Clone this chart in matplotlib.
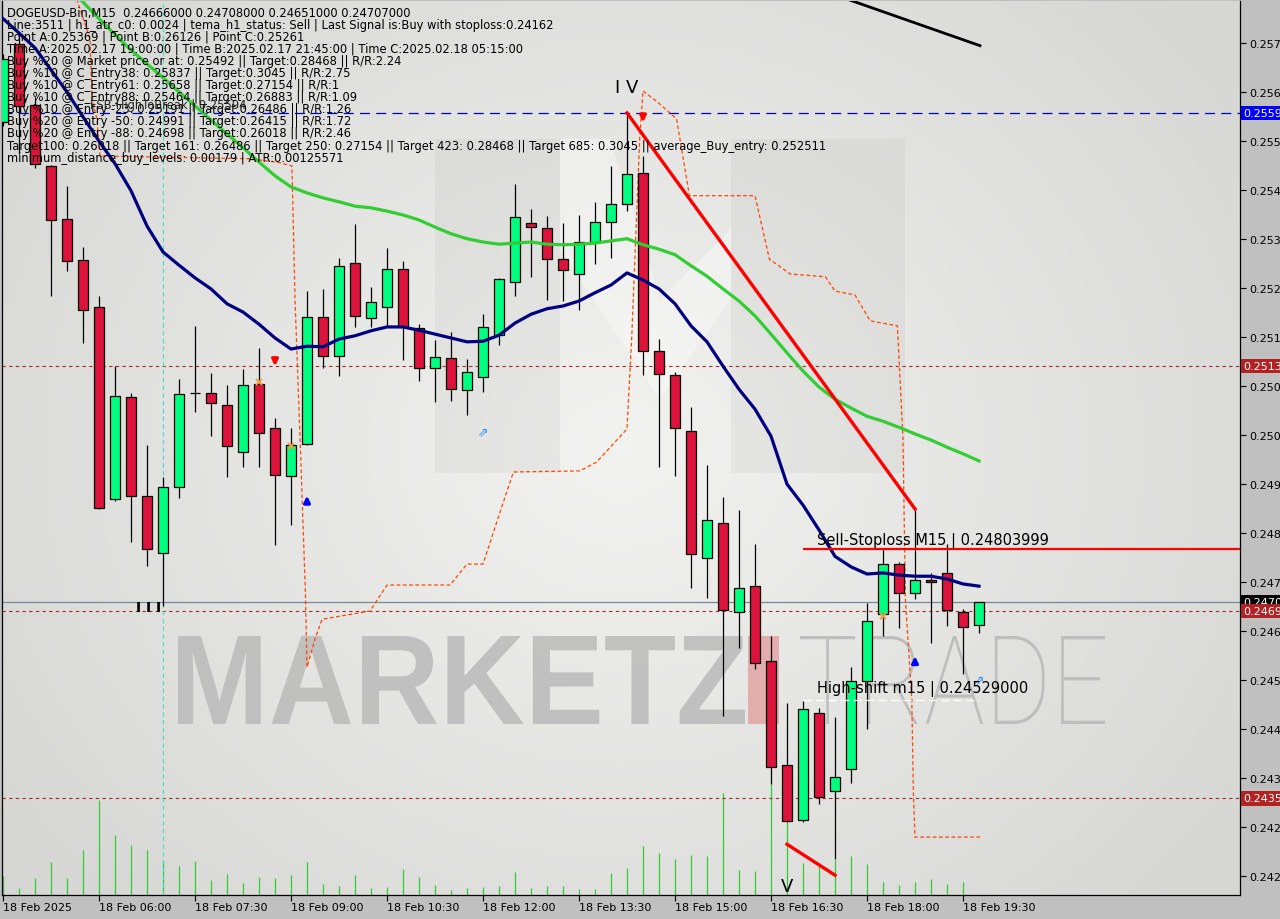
import numpy as np
import matplotlib.pyplot as plt
from matplotlib.patches import Rectangle, PathPatch, Polygon
from matplotlib.textpath import TextPath
from matplotlib.font_manager import FontProperties
from matplotlib.transforms import Affine2D, blended_transform_factory

# ---- DOGEUSD-Bin M15, 18 Feb 2025 04:30 .. 19:45 ----
opens = [0.25578, 0.25719, 0.25609, 0.25498, 0.25402, 0.25327, 0.25242, 0.24894, 0.25079, 0.24899,
         0.24796, 0.24916, 0.25086, 0.25086, 0.25064, 0.24979, 0.25103, 0.25023, 0.24936, 0.24994,
         0.25224, 0.25153, 0.25322, 0.25222, 0.25242, 0.25311, 0.25204, 0.25132, 0.25150, 0.25092,
         0.25115, 0.25191, 0.25288, 0.25395, 0.25385, 0.25329, 0.25302, 0.25360, 0.25396, 0.25429,
         0.25485, 0.25162, 0.25119, 0.25017, 0.24787, 0.24850, 0.24689, 0.24736, 0.24600, 0.24411,
         0.24312, 0.24506, 0.24364, 0.24404, 0.24564, 0.24685, 0.24776, 0.24723, 0.24747, 0.24760,
         0.24689, 0.24666]
highs = [0.25701, 0.25737, 0.25623, 0.25500, 0.25462, 0.25351, 0.25262, 0.25135, 0.25086, 0.24992,
         0.24934, 0.25112, 0.25208, 0.25122, 0.25101, 0.25130, 0.25168, 0.25041, 0.25023, 0.25271,
         0.25275, 0.25331, 0.25393, 0.25278, 0.25349, 0.25326, 0.25211, 0.25182, 0.25197, 0.25148,
         0.25229, 0.25295, 0.25465, 0.25420, 0.25407, 0.25395, 0.25409, 0.25433, 0.25498, 0.25594,
         0.25516, 0.25184, 0.25124, 0.25061, 0.24956, 0.24898, 0.24874, 0.24812, 0.24645, 0.24524,
         0.24527, 0.24515, 0.24498, 0.24589, 0.24705, 0.24803, 0.24780, 0.24874, 0.24760, 0.24812,
         0.24694, 0.24708]
lows = [0.25570, 0.25520, 0.25494, 0.25262, 0.25307, 0.25177, 0.24876, 0.24890, 0.24816, 0.24772,
        0.24700, 0.24896, 0.25052, 0.25008, 0.24934, 0.24952, 0.24952, 0.24810, 0.24847, 0.24992,
        0.25132, 0.25117, 0.25206, 0.25206, 0.25208, 0.25146, 0.25108, 0.25070, 0.25072, 0.25046,
        0.25088, 0.25173, 0.25262, 0.25297, 0.25255, 0.25253, 0.25237, 0.25320, 0.25331, 0.25416,
        0.25119, 0.24952, 0.24936, 0.24732, 0.24714, 0.24500, 0.24624, 0.24585, 0.24377, 0.24308,
        0.24308, 0.24341, 0.24241, 0.24379, 0.24477, 0.24645, 0.24660, 0.24712, 0.24633, 0.24663,
        0.24576, 0.24651]
closes = [0.25692, 0.25607, 0.25502, 0.25400, 0.25326, 0.25237, 0.24878, 0.25081, 0.24899, 0.24803,
          0.24916, 0.25084, 0.25086, 0.25068, 0.24990, 0.25101, 0.25014, 0.24937, 0.24992, 0.25224,
          0.25153, 0.25317, 0.25226, 0.25251, 0.25311, 0.25206, 0.25132, 0.25151, 0.25093, 0.25124,
          0.25206, 0.25293, 0.25405, 0.25387, 0.25329, 0.25309, 0.25360, 0.25396, 0.25429, 0.25483,
          0.25162, 0.25121, 0.25023, 0.24794, 0.24856, 0.24692, 0.24732, 0.24596, 0.24408, 0.24310,
          0.24513, 0.24353, 0.24390, 0.24564, 0.24673, 0.24776, 0.24723, 0.24747, 0.24743, 0.24692,
          0.24662, 0.24707]
volumes = [19, 7, 17, 33, 17, 45, 95, 60, 50, 45, 35, 29, 34, 15, 21, 12, 18, 17, 20, 33,
           11, 9, 20, 7, 8, 26, 18, 10, 5, 7, 8, 9, 23, 7, 9, 9, 6, 6, 22, 27,
           49, 42, 36, 40, 39, 102, 25, 24, 111, 81, 32, 29, 35, 39, 31, 13, 10, 13, 16, 11,
           13, 0]

# navy (fast) and green (slow) moving averages
ma_fast = [0.25765, 0.25739, 0.25712, 0.25672, 0.25632, 0.25587, 0.25543, 0.25502, 0.25453, 0.25389,
           0.25342, 0.25318, 0.25295, 0.25275, 0.25248, 0.25233, 0.25211, 0.25186, 0.25166, 0.25171,
           0.25170, 0.25184, 0.25190, 0.25199, 0.25206, 0.25206, 0.25200, 0.25193, 0.25186, 0.25179,
           0.25180, 0.25191, 0.25213, 0.25229, 0.25239, 0.25244, 0.25253, 0.25268, 0.25282, 0.25304,
           0.25291, 0.25275, 0.25248, 0.25208, 0.25179, 0.25135, 0.25093, 0.25057, 0.25008, 0.24921,
           0.24883, 0.24838, 0.24790, 0.24771, 0.24758, 0.24760, 0.24756, 0.24754, 0.24754, 0.24749,
           0.24740, 0.24736]
ma_slow = [0.25930, 0.25904, 0.25879, 0.25852, 0.25824, 0.25795, 0.25765, 0.25736, 0.25708, 0.25683,
           0.25658, 0.25632, 0.25607, 0.25581, 0.25556, 0.25531, 0.25505, 0.25480, 0.25460, 0.25449,
           0.25440, 0.25433, 0.25425, 0.25422, 0.25416, 0.25409, 0.25400, 0.25387, 0.25375, 0.25366,
           0.25360, 0.25356, 0.25358, 0.25360, 0.25356, 0.25355, 0.25356, 0.25358, 0.25362, 0.25366,
           0.25355, 0.25347, 0.25337, 0.25317, 0.25298, 0.25275, 0.25253, 0.25226, 0.25193, 0.25159,
           0.25126, 0.25097, 0.25075, 0.25059, 0.25044, 0.25035, 0.25024, 0.25012, 0.25001, 0.24988,
           0.24976, 0.24963]

# orange dashed trailing band (bar index, price)
trail_idx = [4.5, 5.44, 5.56, 5.87, 6.06, 15.4, 17.1, 18.06, 18.25, 18.56,
             18.9, 19.0, 19.5, 19.94, 22.94, 24.0, 27.94, 29.0, 30.0, 31.06,
             31.9, 36.06, 37.1, 39.0, 39.3, 39.8, 40.0, 40.9, 42.1, 42.9,
             47.0, 47.9, 49.2, 51.4, 52.0, 53.25, 54.2, 55.9, 56.25, 56.4,
             56.8, 56.9, 57.0, 61.06]
trail_px = [0.25810, 0.25728, 0.25619, 0.25583, 0.25516, 0.25511, 0.25505, 0.25498, 0.25257, 0.25008,
            0.24725, 0.24589, 0.24640, 0.24676, 0.24691, 0.24738, 0.24738, 0.24776, 0.24776, 0.24870,
            0.24943, 0.24945, 0.24961, 0.25021, 0.25190, 0.25552, 0.25634, 0.25614, 0.25583, 0.25444,
            0.25444, 0.25329, 0.25302, 0.25297, 0.25271, 0.25264, 0.25217, 0.25208, 0.25003, 0.24712,
            0.24531, 0.24362, 0.24281, 0.24281]

# trend lines (bar index pairs, price pairs)
trend_red_idx, trend_red_px = [39, 57], [0.25594, 0.24876]
trend_low_idx, trend_low_px = [49, 52], [0.24268, 0.24212]
trend_blk_idx, trend_blk_px = [52.8, 61.06], [0.25800, 0.25716]

fsb_level = 0.25594
last_price = 0.24707
entry_levels = [0.25135, 0.24691, 0.24351]
sell_stop = 0.24803999
high_shift = 0.24529
signal_bar = 10

tag_prices = [0.25594, 0.25135, 0.24707, 0.24691, 0.24351]
tag_colors = ['#0000ff', '#b22222', '#000000', '#b22222', '#b22222']

price_ticks = [0.24210, 0.24299, 0.24388, 0.24477, 0.24566, 0.24654, 0.24743, 0.24832, 0.24921,
               0.25010, 0.25099, 0.25188, 0.25277, 0.25366, 0.25454, 0.25543, 0.25632, 0.25721]
time_idx = [0, 6, 12, 18, 24, 30, 36, 42, 48, 54, 60]
time_labels = ['18 Feb 2025', '18 Feb 06:00', '18 Feb 07:30', '18 Feb 09:00', '18 Feb 10:30',
               '18 Feb 12:00', '18 Feb 13:30', '18 Feb 15:00', '18 Feb 16:30', '18 Feb 18:00',
               '18 Feb 19:30']

header = [
    "DOGEUSD-Bin,M15  0.24666000 0.24708000 0.24651000 0.24707000",
    "Line:3511 | h1_atr_c0: 0.0024 | tema_h1_status: Sell | Last Signal is:Buy with stoploss:0.24162",
    "Point A:0.25369 | Point B:0.26126 | Point C:0.25261",
    "Time A:2025.02.17 19:00:00 | Time B:2025.02.17 21:45:00 | Time C:2025.02.18 05:15:00",
    "Buy %20 @ Market price or at: 0.25492 || Target:0.28468 || R/R:2.24",
    "Buy %10 @ C_Entry38: 0.25837 || Target:0.3045 || R/R:2.75",
    "Buy %10 @ C_Entry61: 0.25658 || Target:0.27154 || R/R:1",
    "Buy %10 @ C_Entry88: 0.25464 || Target:0.26883 || R/R:1.09",
    "Buy %10 @ Entry -23: 0.25191 || Target:0.26486 || R/R:1.26",
    "Buy %20 @ Entry -50: 0.24991 || Target:0.26415 || R/R:1.72",
    "Buy %20 @ Entry -88: 0.24698 || Target:0.26018 || R/R:2.46",
    "Target100: 0.26018 || Target 161: 0.26486 || Target 250: 0.27154 || Target 423: 0.28468 || Target 685: 0.3045 || average_Buy_entry: 0.252511",
    "minimum_distance_buy_levels: 0.00179 | ATR:0.00125571",
]

# signal markers (bar index, price)
sell_arrows = [(17, 0.25130), (40, 0.25572)]
buy_arrows = [(19, 0.24905), (57, 0.24614)]
hollow_arrows = [(30, 0.25017), (61, 0.24567)]
cross_marks = [(16, 0.25106), (18, 0.24990), (55, 0.24682)]
wave_labels = [("I V", 39, 0.25641), ("V", 49, 0.24192)]

# ---- layout ----
W, H = 1280, 920
PL, PR, PT, PB = 2, 1240, 2, 896

fig = plt.figure(figsize=(W / 100, H / 100), dpi=100, facecolor='#c0c0c0')
ax = fig.add_axes([PL / W, 1 - PB / H, (PR - PL) / W, (PB - PT) / H])


def axfrac(x, y):
    return (x - PL) / (PR - PL), (PB - y) / (PB - PT)


# light radial background
gy, gx = np.mgrid[0:1:200j, 0:1:300j]
r = np.clip(np.sqrt(((gx - 0.5) / 0.62) ** 2 + ((gy - 0.5) / 0.75) ** 2), 0, 1)
v = 0.95 - 0.11 * r
bg = np.dstack([v, v, v * 0.99])
ax.imshow(bg, extent=[0, 1, 0, 1], transform=ax.transAxes, aspect='auto', zorder=-10)


def box_text(s, x0, y0, x1, y1, color, weight='bold', family='Liberation Sans', alpha=1.0):
    tp = TextPath((0, 0), s, size=1, prop=FontProperties(family=family, weight=weight))
    e = tp.get_extents()
    a0 = axfrac(x0, y1)
    a1 = axfrac(x1, y0)
    tr = (Affine2D().translate(-e.x0, -e.y0)
          .scale((a1[0] - a0[0]) / e.width, (a1[1] - a0[1]) / e.height)
          .translate(a0[0], a0[1]) + ax.transAxes)
    ax.add_patch(PathPatch(tp, transform=tr, fc=color, ec='none', alpha=alpha, zorder=0.5))


# faint "M" logo and MARKETZI TRADE watermark
for (x0, x1) in [(435, 560), (731, 905)]:
    a, b = axfrac(x0, 474), axfrac(x1, 140)
    ax.add_patch(Rectangle(a, b[0] - a[0], b[1] - a[1], transform=ax.transAxes,
                           fc='#000000', alpha=0.035, ec='none', zorder=0.2))
vpoly = [axfrac(*p) for p in [(560, 140), (610, 140), (660, 300), (731, 230), (731, 300), (660, 400), (560, 250)]]
ax.add_patch(Polygon(vpoly, closed=True, transform=ax.transAxes, fc='white', alpha=0.35, ec='none', zorder=0.2))
box_text("MARKETZ", 178, 637, 745, 725, '#bababa', alpha=0.85)
box_text("I", 748, 637, 779, 725, '#e3a3a3', alpha=0.85)
box_text("TRADE", 800, 637, 1105, 725, '#b8b8b8', weight='light', family='Roboto', alpha=0.85)

idx = np.arange(len(opens))
ax.set_xlim(-1 / 16, (PR - 3) / 16)
ax.set_ylim(0.24176, 0.25797)

# volume bars along the bottom
ax.vlines(idx, 0, np.array(volumes) / 894.0, transform=ax.get_xaxis_transform(),
          color='#32cd32', lw=0.9, zorder=1)

# horizontal levels
ax.axhline(fsb_level, color='#0000cd', lw=0.9, ls=(0, (8, 5)), zorder=2)
for lv in entry_levels:
    ax.axhline(lv, color='#a52a2a', lw=0.8, ls=(0, (3, 3)), zorder=2)
ax.axhline(last_price, color='#778899', lw=0.9, zorder=2)
ax.axvline(signal_bar, color='#40e0d0', lw=0.8, ls=(0, (4, 3)), zorder=2)

# orange trailing band
ax.plot(trail_idx, trail_px, color='#ff4500', lw=0.9, ls=(0, (3, 2)), zorder=2.5)

# candles
for i, (o, h, l, c) in enumerate(zip(opens, highs, lows, closes)):
    ax.vlines(i, l, h, color='black', lw=0.9, zorder=3)
    if o == c:
        ax.hlines(o, i - 0.3125, i + 0.3125, color='black', lw=0.9, zorder=3.1)
    else:
        col = '#00ff7f' if c > o else '#dc143c'
        ax.add_patch(Rectangle((i - 0.3125, min(o, c)), 0.625, abs(c - o),
                               fc=col, ec='black', lw=0.9, zorder=3.1))

# moving averages and trend lines
ax.plot(idx, ma_slow, color='#32cd32', lw=2.3, zorder=4)
ax.plot(idx, ma_fast, color='#000080', lw=2.3, zorder=4)
ax.plot(trend_red_idx, trend_red_px, color='#ff0000', lw=2.4, zorder=4.5)
ax.plot(trend_low_idx, trend_low_px, color='#ff0000', lw=2.4, zorder=4.5)
ax.plot(trend_blk_idx, trend_blk_px, color='#000000', lw=2.0, zorder=4.5)

# sell stoploss / high shift
xmax = ax.get_xlim()[1]
ax.hlines(sell_stop, 50, xmax, color='#ff0000', lw=1.6, zorder=4.6)
ax.hlines(high_shift, 50, 61, color='white', lw=1.0, ls=(0, (6, 3)), zorder=4.6)
ax.text(50.9, 0.24819, "Sell-Stoploss M15 | 0.24803999", fontsize=10.5, va='center', ha='left', zorder=6)
ax.text(50.9, 0.24551, "High-shift m15 | 0.24529000", fontsize=10.5, va='center', ha='left', zorder=6)

# signal markers
for (i, p) in sell_arrows:
    ax.annotate('', xy=(i, p), xytext=(0, 10), textcoords='offset points',
                arrowprops=dict(arrowstyle='-|>', color='#ff0000', lw=2.2, mutation_scale=9), zorder=5)
for (i, p) in buy_arrows:
    ax.annotate('', xy=(i, p), xytext=(0, -10), textcoords='offset points',
                arrowprops=dict(arrowstyle='-|>', color='#0000ff', lw=2.2, mutation_scale=9), zorder=5)
for (i, p) in hollow_arrows:
    ax.text(i, p, '\u21d7', color='#1e90ff', fontsize=9, ha='center', va='center', zorder=5)
for (i, p) in cross_marks:
    ax.plot(i, p, marker='x', color='#f0a040', ms=4, mew=1.4, zorder=5)
for (s, i, p) in wave_labels:
    ax.text(i, p, s, fontsize=13, ha='center', va='center', zorder=5)
ax.text(9.1, 0.24698, "I I I", fontsize=10, fontweight='bold', ha='center', va='center', zorder=5)

# header text block
for k, line in enumerate(header):
    x, y = axfrac(7, 13 + 12.1 * k)
    ax.text(x, y, line, transform=ax.transAxes, fontsize=8.3, va='center', ha='left', zorder=6)
x, y = axfrac(90, 106)
ax.text(x, y, "FSB-HighToBreak | 0.25594", transform=ax.transAxes, fontsize=8.3,
        va='center', ha='left', color='#222222', zorder=6)

# axes / ticks
ax.yaxis.tick_right()
ax.set_yticks(price_ticks)
ax.set_yticklabels([f"{p:.5f}" for p in price_ticks], fontsize=8)
ax.set_xticks(time_idx)
ax.set_xticklabels(time_labels, fontsize=8, ha='left')
ax.tick_params(axis='both', length=4, width=0.8, colors='black')
ax.tick_params(axis='y', pad=3)
ax.tick_params(axis='x', pad=1)
ax.spines['top'].set_visible(False)
for s in ['left', 'right', 'bottom']:
    ax.spines[s].set_linewidth(0.9)

# price tags on the right scale
blend = blended_transform_factory(ax.transAxes, ax.transData)
for p, col in zip(tag_prices, tag_colors):
    ax.text(1.0025, p, f"{p:.5f}", transform=blend, ha='left', va='center', fontsize=8, color='white',
            bbox=dict(boxstyle='square,pad=0.2', fc=col, ec='none'), clip_on=False, zorder=10)

fig.savefig('out.png', dpi=100, facecolor=fig.get_facecolor())
